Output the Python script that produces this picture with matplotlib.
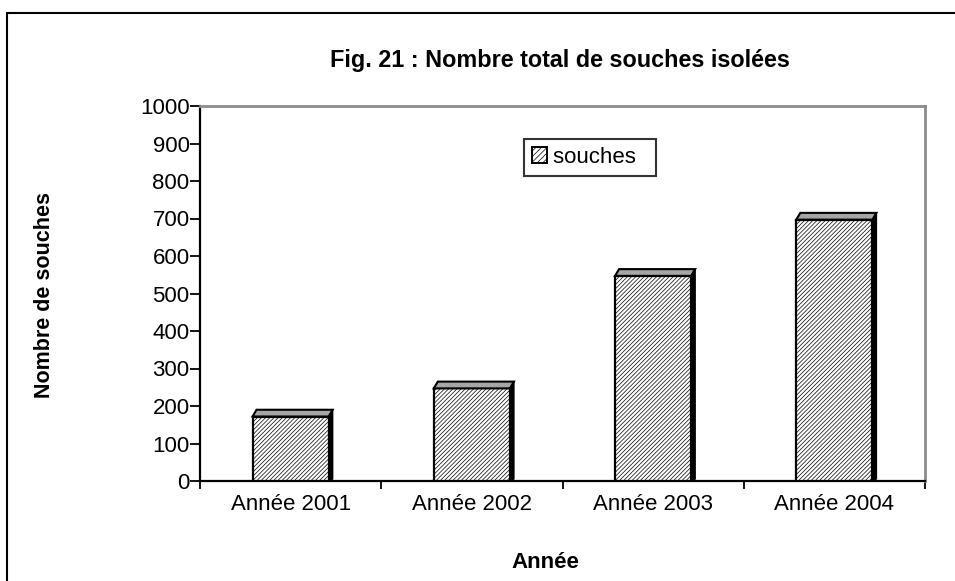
import matplotlib.pyplot as plt
from matplotlib.patches import Polygon, Rectangle

plt.rcParams['font.family'] = ['Liberation Sans', 'DejaVu Sans']
plt.rcParams['hatch.linewidth'] = 0.5

# data
annees = ['Année 2001', 'Année 2002', 'Année 2003', 'Année 2004']
souches = [172, 247, 547, 697]
y_ticks = list(range(0, 1001, 100))

fig = plt.figure(figsize=(9.55, 5.81), dpi=100)
ax = fig.add_axes([200 / 955, 1 - 481 / 581, 725 / 955, 375 / 581])

# outer frame of the chart (runs off the right and bottom edges)
fig.patches.append(Rectangle((7 / 955, -0.05), 1.0, 1 - 13 / 581 + 0.05,
                             transform=fig.transFigure, fill=False,
                             edgecolor='black', linewidth=1.5))

width = 0.42
dx, dy = 0.022, 18   # fake 3D depth
for i, v in enumerate(souches):
    x0 = i - width / 2
    x1 = i + width / 2
    ax.bar(i, v, width=width, color='white', edgecolor='black',
           hatch='////////', linewidth=1.6, zorder=3)
    # top face
    ax.add_patch(Polygon([(x0, v), (x0 + dx, v + dy), (x1 + dx, v + dy), (x1, v)],
                         closed=True, facecolor='#a6a6a6', edgecolor='black',
                         linewidth=1.5, zorder=4))
    # side face
    ax.add_patch(Polygon([(x1, 0), (x1, v), (x1 + dx, v + dy), (x1 + dx, dy * 0.3)],
                         closed=True, facecolor='black', edgecolor='black',
                         linewidth=1.0, zorder=4))

ax.set_xlim(-0.5, len(annees) - 0.5)
ax.set_ylim(0, 1000)
ax.set_yticks(y_ticks)
ax.set_xticks(range(len(annees)))
ax.set_xticklabels(annees)
ax.set_xticks([k + 0.5 for k in range(-1, len(annees))], minor=True)
ax.tick_params(axis='x', which='major', length=0, pad=9, labelsize=16)
ax.tick_params(axis='x', which='minor', length=6, width=1.3, direction='out')
ax.tick_params(axis='y', length=7, width=1.3, direction='out', labelsize=16, pad=0.5)

for side in ['left', 'bottom']:
    ax.spines[side].set_linewidth(1.6)
    ax.spines[side].set_color('black')
for side in ['top', 'right']:
    ax.spines[side].set_linewidth(2)
    ax.spines[side].set_color('#8c8c8c')

fig.text(560 / 955, 1 - 61 / 581, 'Fig. 21 : Nombre total de souches isolées',
         ha='center', va='center', fontsize=16.8, fontweight='bold')
fig.text(45 / 955, 1 - 295 / 581, 'Nombre de souches', rotation=90,
         ha='center', va='center', fontsize=15.5, fontweight='bold')
fig.text(545 / 955, 1 - 562 / 581, 'Année', ha='center', va='center',
         fontsize=16, fontweight='bold')

leg_handle = Rectangle((0, 0), 1, 1, facecolor='white', edgecolor='black',
                       hatch='//////', linewidth=1.4)
leg = ax.legend([leg_handle], ['souches  '], loc='upper left',
                bbox_to_anchor=((524 - 200) / 725, (481 - 139) / 375),
                frameon=True, fancybox=False, fontsize=16,
                handlelength=0.7, handleheight=0.7, handletextpad=0.25,
                borderpad=0.35, borderaxespad=0)
leg.get_frame().set_edgecolor('black')
leg.get_frame().set_linewidth(1.5)

fig.savefig('out.png', dpi=100)
